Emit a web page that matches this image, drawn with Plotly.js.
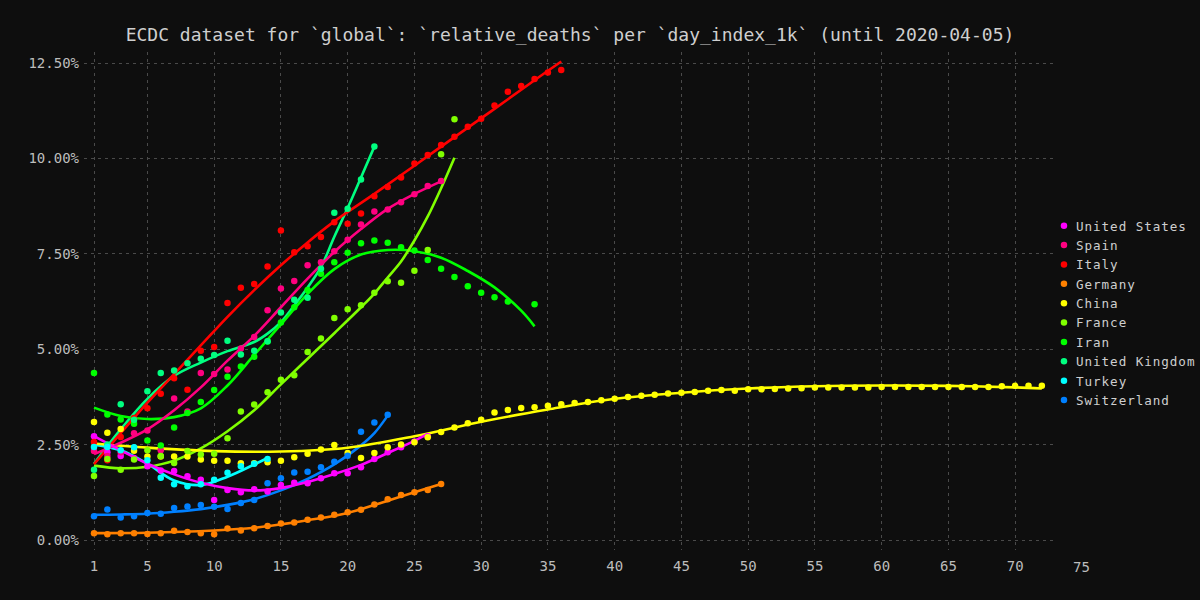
<!DOCTYPE html>
<html>
<head>
<meta charset="utf-8">
<script src="https://cdn.plot.ly/plotly-3.0.1.min.js"></script>
<style>
  html, body { margin: 0; padding: 0; background: #0e0e0e; }
  #chart { width: 1200px; height: 600px; }
  #chart .legendtext { letter-spacing: 0.95px; }
  #chart .legend .scrollbox { clip-path: none !important; }
  #chart .legend .legendpoints { transform: translateX(8px); }
</style>
</head>
<body>
<div id="chart"></div>
<script>
// ---- data (relative deaths in %, per day index) ----
const countries = ["United States", "Spain", "Italy", "Germany", "China", "France", "Iran", "United Kingdom", "Turkey", "Switzerland"];
const colors = ["#ff00ff", "#ff0080", "#ff0000", "#ff8000", "#ffff00", "#80ff00", "#00ff00", "#00ff80", "#00ffff", "#0080ff"];

const usValues = [2.72, 2.30, 2.20, 2.15, 1.93, 1.82, 1.81, 1.67, 1.58, 1.05, 1.31, 1.25, 1.33, 1.27, 1.44, 1.50, 1.49, 1.62, 1.75, 1.75, 1.91, 2.12, 2.30, 2.43, 2.58, 2.72];
const spainValues = [2.33, 2.20, 2.30, 2.80, 2.87, 2.35, 3.71, 3.37, 4.38, 4.35, 4.47, 5.02, 5.32, 6.02, 6.59, 6.79, 7.20, 7.28, 7.57, 7.87, 8.27, 8.61, 8.66, 8.85, 9.06, 9.28, 9.41];
const italyValues = [2.57, 2.09, 2.70, 3.20, 3.45, 3.83, 4.24, 3.94, 4.96, 5.06, 6.21, 6.61, 6.71, 7.17, 8.11, 7.54, 7.70, 7.94, 8.33, 8.29, 8.56, 9.01, 9.25, 9.50, 9.87, 10.09, 10.35, 10.57, 10.83, 11.04, 11.39, 11.75, 11.90, 12.08, 12.25, 12.32];
const germanyValues = [0.18, 0.15, 0.18, 0.18, 0.16, 0.18, 0.24, 0.21, 0.18, 0.15, 0.30, 0.25, 0.31, 0.37, 0.43, 0.46, 0.53, 0.59, 0.66, 0.73, 0.79, 0.93, 1.07, 1.18, 1.25, 1.31, 1.47];
const chinaValues = [3.09, 2.81, 2.91, 2.34, 2.19, 2.19, 2.19, 2.19, 2.11, 2.08, 2.08, 2.01, 2.01, 2.04, 2.08, 2.17, 2.26, 2.37, 2.49, 2.28, 2.15, 2.28, 2.43,
  2.50, 2.56, 2.69, 2.83, 2.95, 3.06, 3.15, 3.34, 3.41, 3.46, 3.48, 3.52, 3.56, 3.59, 3.62, 3.66, 3.70, 3.75,
  3.78, 3.81, 3.84, 3.86, 3.88, 3.91, 3.93, 3.91, 3.95, 3.95, 3.96, 3.97, 3.98, 4.00, 4.00, 4.00, 4.00, 4.00, 4.01, 4.01, 4.01, 4.01, 4.01, 4.01, 4.01, 4.01, 4.01, 4.03, 4.04, 4.04, 4.04];
const franceValues = [1.68, 2.12, 1.84, 2.11, 2.35, 2.20, 2.02, 2.33, 2.24, 2.26, 2.67, 3.37, 3.55, 3.87, 4.20, 4.32, 4.93, 5.28, 5.82, 6.05, 6.15, 6.48, 6.78, 6.74, 7.06, 7.60, 10.11, 11.03];
const iranValues = [4.38, 3.29, 3.16, 3.05, 2.61, 2.48, 2.95, 3.33, 3.62, 3.93, 4.28, 4.55, 4.80, 5.20, 5.70, 6.10, 6.55, 6.98, 7.28, 7.53, 7.78, 7.85, 7.79, 7.67, 7.59, 7.34, 7.11, 6.89, 6.65, 6.48, 6.36, 6.25, null, 6.18];
const ukValues = [1.84, 2.50, 3.56, 3.15, 3.90, 4.38, 4.44, 4.63, 4.75, 4.85, 5.22, 4.86, 4.96, 5.21, 5.96, 6.30, 6.35, 7.11, 8.58, 8.68, 9.45, 10.31];
const turkeyValues = [2.44, 2.44, 2.35, 2.43, 2.09, 1.63, 1.46, 1.41, 1.46, 1.58, 1.76, 1.93, 2.00, 2.12];
const switzerlandValues = [0.62, 0.80, 0.59, 0.62, 0.71, 0.69, 0.84, 0.88, 0.92, 0.87, 0.81, 0.97, 1.05, 1.49, 1.62, 1.77, 1.79, 1.91, 2.05, 2.21, 2.84, 3.08, 3.28];

// ---- smoothed trend curves ----
const usFitDays = [1, 3, 5, 7, 9, 11, 13, 15, 17, 19, 21, 23, 25, 26];
const usFit = [2.72, 2.35, 2.00, 1.72, 1.50, 1.36, 1.30, 1.36, 1.52, 1.73, 1.97, 2.28, 2.60, 2.78];
const spainFitDays = [1, 3, 5, 7, 9, 11, 13, 15, 17, 19, 21, 23, 25, 27];
const spainFit = [2.25, 2.55, 2.90, 3.40, 4.00, 4.70, 5.35, 6.10, 6.85, 7.55, 8.15, 8.68, 9.07, 9.40];
const italyFitDays = [1, 3, 5, 7, 9, 11, 13, 15, 17, 19, 22, 25, 28, 31, 34, 36];
const italyFit = [1.99, 2.80, 3.60, 4.35, 5.10, 5.85, 6.55, 7.20, 7.80, 8.35, 9.07, 9.81, 10.56, 11.30, 12.05, 12.54];
const germanyFitDays = [1, 5, 10, 13, 15, 17, 20, 23, 25, 27];
const germanyFit = [0.18, 0.19, 0.25, 0.32, 0.41, 0.52, 0.71, 1.03, 1.25, 1.47];
const chinaFitDays = [1, 5, 10, 15, 20, 25, 30, 35, 40, 45, 50, 55, 60, 65, 70, 72];
const chinaFit = [2.53, 2.42, 2.33, 2.32, 2.42, 2.72, 3.10, 3.42, 3.70, 3.86, 3.97, 4.03, 4.05, 4.04, 4.00, 3.97];
const franceFitDays = [1, 3, 5, 7, 9, 11, 13, 15, 17, 19, 21, 22, 23, 24, 25, 26, 27, 28];
const franceFit = [1.95, 1.88, 1.92, 2.08, 2.40, 2.85, 3.40, 4.08, 4.75, 5.42, 6.10, 6.46, 6.88, 7.30, 7.85, 8.48, 9.22, 10.02];
const iranFitDays = [1, 3, 5, 7, 9, 11, 13, 15, 17, 19, 21, 23, 25, 27, 29, 31, 33, 34];
const iranFit = [3.47, 3.25, 3.17, 3.22, 3.45, 4.05, 4.85, 5.65, 6.45, 7.10, 7.48, 7.60, 7.57, 7.40, 7.05, 6.62, 6.01, 5.60];
const ukFitDays = [1, 3, 5, 7, 9, 11, 13, 14, 15, 16, 17, 18, 19, 20, 21, 22];
const ukFit = [2.00, 2.90, 3.70, 4.30, 4.65, 4.95, 5.19, 5.41, 5.71, 6.15, 6.62, 7.15, 7.95, 8.70, 9.50, 10.31];
const turkeyFitDays = [1, 3, 5, 7, 9, 11, 13, 14];
const turkeyFit = [2.50, 2.35, 2.00, 1.56, 1.44, 1.66, 1.98, 2.15];
const switzerlandFitDays = [1, 3, 5, 7, 9, 11, 13, 15, 17, 19, 21, 22, 23];
const switzerlandFit = [0.66, 0.67, 0.69, 0.74, 0.81, 0.92, 1.07, 1.30, 1.60, 1.98, 2.48, 2.80, 3.26];

const xTickVals = [1, 5, 10, 15, 20, 25, 30, 35, 40, 45, 50, 55, 60, 65, 70];
const xExtraTick = "75";
const yTickVals = [0, 2.5, 5, 7.5, 10, 12.5];
const yTickText = ["0.00%", "2.50%", "5.00%", "7.50%", "10.00%", "12.50%"];

const titleText = "ECDC dataset for `global`: `relative_deaths` per `day_index_1k` (until 2020-04-05)";

// ---- build traces ----
const pointSeries = [usValues, spainValues, italyValues, germanyValues, chinaValues, franceValues, iranValues, ukValues, turkeyValues, switzerlandValues];
const fitDays = [usFitDays, spainFitDays, italyFitDays, germanyFitDays, chinaFitDays, franceFitDays, iranFitDays, ukFitDays, turkeyFitDays, switzerlandFitDays];
const fitSeries = [usFit, spainFit, italyFit, germanyFit, chinaFit, franceFit, iranFit, ukFit, turkeyFit, switzerlandFit];

const mono = "DejaVu Sans Mono, Liberation Mono, monospace";
const xRange = [0.25, 73.06];
const traces = [];
for (let i = countries.length - 1; i >= 0; i--) {
  traces.push({
    type: "scatter", mode: "lines",
    x: fitDays[i], y: fitSeries[i],
    line: { color: colors[i], width: 2.6, shape: "spline", smoothing: 1 },
    showlegend: false, hoverinfo: "skip"
  });
}
for (let i = 0; i < countries.length; i++) {
  const vals = pointSeries[i];
  traces.push({
    type: "scatter", mode: "markers", name: countries[i],
    x: vals.map((_, k) => k + 1), y: vals,
    marker: { color: colors[i], size: 6.5 },
    legendrank: i + 1
  });
}

const layout = {
  width: 1200, height: 600,
  paper_bgcolor: "#0e0e0e", plot_bgcolor: "#0e0e0e",
  font: { family: mono, color: "#bdbdbd", size: 14 },
  margin: { l: 84, r: 144, t: 52, b: 50, autoexpand: false },
  title: { text: titleText, font: { family: mono, size: 18, color: "#cfcfcf" }, x: 0.5, xref: "paper", xanchor: "center", y: 1, yref: "container", yanchor: "top", pad: { t: 28 } },
  xaxis: {
    range: xRange, tickmode: "array", tickvals: xTickVals,
    showgrid: true, gridcolor: "#4a4a4a", griddash: "3px,4px", gridwidth: 1,
    zeroline: false, showline: false, ticks: "", ticklabelstandoff: 6,
    tickfont: { family: mono, size: 14, color: "#bdbdbd" }
  },
  yaxis: {
    range: [-0.262, 12.79], tickmode: "array", tickvals: yTickVals, ticktext: yTickText,
    showgrid: true, gridcolor: "#4a4a4a", griddash: "3px,4px", gridwidth: 1,
    zeroline: false, showline: false, ticks: "", ticklabelstandoff: 4,
    tickfont: { family: mono, size: 14, color: "#bdbdbd" }
  },
  legend: {
    x: 0.9794, xanchor: "left", y: 0.476, yanchor: "middle",
    bgcolor: "rgba(0,0,0,0)", font: { family: mono, size: 12.6, color: "#cfcfcf" },
    traceorder: "normal", itemwidth: 30
  },
  annotations: [{
    text: xExtraTick, xref: "paper", yref: "paper",
    x: (75 - xRange[0]) / (xRange[1] - xRange[0]), y: 0, xanchor: "center", yanchor: "top", yshift: -7,
    showarrow: false, font: { family: mono, size: 14, color: "#bdbdbd" }
  }],
  showlegend: true
};

Plotly.newPlot("chart", traces, layout, { displayModeBar: false, staticPlot: true });
</script>
</body>
</html>
